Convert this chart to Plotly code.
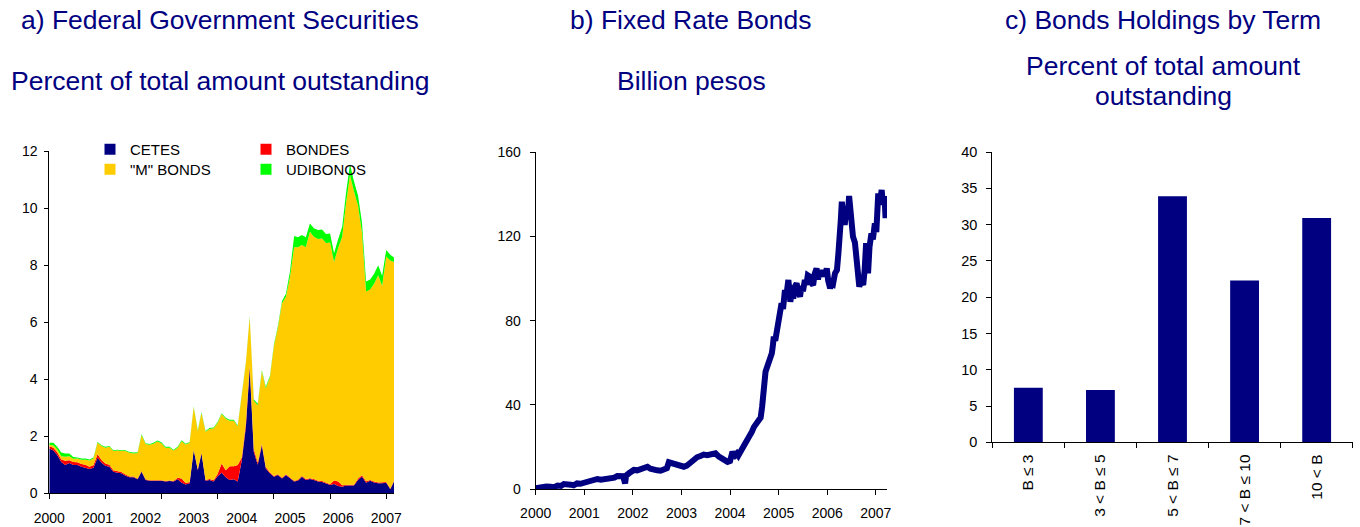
import pandas as pd
import plotly.graph_objects as go

W, H = 1360, 527

# ---------------- Panel a: Federal Government Securities (monthly, Jan 2000 - Mar 2007)
a_dates = pd.date_range("2000-01-01", periods=87, freq="MS")
cetes = [1.57, 1.50, 1.34, 1.10, 0.99, 1.06, 0.99, 0.99, 0.93, 0.90, 0.85, 0.90,
         1.25, 1.07, 0.97, 0.93, 0.76, 0.72, 0.70, 0.62, 0.56, 0.56, 0.49, 0.76,
         0.47, 0.44, 0.44, 0.45, 0.44, 0.41, 0.43, 0.41, 0.49, 0.37, 0.31, 0.35,
         1.51, 0.81, 1.40, 0.44, 0.47, 0.41, 0.60, 0.72, 0.56, 0.47, 0.49, 0.41,
         1.16, 2.33, 4.40, 1.45, 1.00, 1.69, 0.87, 0.70, 0.58, 0.64, 0.52, 0.64,
         0.52, 0.41, 0.44, 0.58, 0.47, 0.50, 0.47, 0.41, 0.40, 0.35, 0.29, 0.33,
         0.26, 0.23, 0.27, 0.27, 0.27, 0.47, 0.58, 0.37, 0.44, 0.38, 0.35, 0.35,
         0.37, 0.14, 0.41]
bondes = [0.08, 0.10, 0.10, 0.09, 0.15, 0.10, 0.11, 0.10, 0.10, 0.10, 0.08, 0.08,
          0.12, 0.10, 0.08, 0.07, 0.05, 0.05, 0.05, 0.04, 0.03, 0.03, 0.02, 0.02,
          0.02, 0.02, 0.02, 0.02, 0.02, 0.02, 0.02, 0.02, 0.06, 0.15, 0.05, 0.05,
          0.03, 0.03, 0.03, 0.03, 0.03, 0.05, 0.08, 0.33, 0.25, 0.48, 0.46, 0.58,
          0.10, 0.15, 0.10, 0.10, 0.08, 0.05, 0.05, 0.04, 0.03, 0.03, 0.03, 0.03,
          0.03, 0.03, 0.03, 0.03, 0.03, 0.03, 0.03, 0.03, 0.03, 0.03, 0.03, 0.12,
          0.15, 0.05, 0.03, 0.03, 0.03, 0.05, 0.05, 0.05, 0.03, 0.03, 0.03, 0.03,
          0.03, 0.03, 0.03]
m_bonds = [0.05, 0.08, 0.10, 0.11, 0.14, 0.14, 0.11, 0.13, 0.15, 0.18, 0.22, 0.24,
           0.40, 0.49, 0.55, 0.63, 0.67, 0.73, 0.73, 0.82, 0.83, 0.81, 0.90, 1.26,
           1.24, 1.24, 1.28, 1.35, 1.30, 1.17, 1.15, 1.07, 1.05, 1.31, 1.35, 1.37,
           1.48, 1.34, 1.39, 1.69, 1.76, 1.82, 1.79, 1.73, 1.81, 1.60, 1.60, 1.36,
           2.20, 2.10, 1.68, 1.70, 2.01, 2.54, 2.77, 3.32, 4.57, 5.14, 6.12, 6.23,
           7.05, 8.19, 8.16, 8.10, 8.13, 8.65, 8.50, 8.48, 8.51, 8.40, 8.48, 7.67,
           8.20, 8.72, 9.85, 10.86, 10.30, 9.58, 8.52, 6.66, 6.68, 6.94, 7.27, 6.90,
           7.91, 8.00, 7.68]
udibonos = [0.07, 0.09, 0.09, 0.13, 0.12, 0.10, 0.06, 0.04, 0.04, 0.04, 0.04, 0.04,
            0.03, 0.03, 0.03, 0.03, 0.03, 0.03, 0.03, 0.03, 0.03, 0.03, 0.03, 0.03,
            0.03, 0.03, 0.03, 0.03, 0.03, 0.03, 0.03, 0.03, 0.03, 0.03, 0.03, 0.03,
            0.03, 0.03, 0.03, 0.03, 0.03, 0.03, 0.03, 0.03, 0.03, 0.03, 0.03, 0.03,
            0.03, 0.03, 0.03, 0.05, 0.05, 0.05, 0.05, 0.05, 0.05, 0.06, 0.08, 0.10,
            0.20, 0.40, 0.35, 0.35, 0.35, 0.29, 0.30, 0.32, 0.32, 0.32, 0.32, 0.30,
            0.30, 0.35, 0.35, 0.39, 0.35, 0.35, 0.35, 0.35, 0.35, 0.35, 0.35, 0.35,
            0.23, 0.20, 0.15]
a_series = ["CETES", "BONDES", "\"M\" BONDS", "UDIBONOS"]
a_colors = ["#000080", "#FF0000", "#FFCC00", "#00FF00"]
a_year_labels = [str(y) for y in range(2000, 2008)]

# ---------------- Panel b: Fixed Rate Bonds (billion pesos)
b_years = [2000.00, 2000.08, 2000.15, 2000.22, 2000.30, 2000.38, 2000.45, 2000.52,
           2000.58, 2000.65, 2000.72, 2000.78, 2000.85, 2000.92, 2001.00, 2001.06,
           2001.13, 2001.20, 2001.27, 2001.34, 2001.40, 2001.48, 2001.55, 2001.62,
           2001.68, 2001.74, 2001.80, 2001.84, 2001.86, 2001.92, 2001.97, 2002.02,
           2002.09, 2002.16, 2002.23, 2002.30, 2002.36, 2002.43, 2002.50, 2002.57,
           2002.64, 2002.70, 2002.74, 2002.77, 2002.84, 2002.90, 2002.97, 2003.05,
           2003.11, 2003.18, 2003.25, 2003.32, 2003.39, 2003.46, 2003.53, 2003.60,
           2003.65, 2003.70, 2003.77, 2003.84, 2003.90, 2003.95, 2004.00, 2004.03,
           2004.05, 2004.08, 2004.10, 2004.14, 2004.17, 2004.22, 2004.28, 2004.33,
           2004.38, 2004.42, 2004.45, 2004.49, 2004.52, 2004.56, 2004.60, 2004.63,
           2004.66, 2004.69, 2004.71, 2004.73, 2004.77, 2004.80, 2004.83, 2004.86,
           2004.88, 2004.90, 2004.93, 2004.96, 2004.98, 2005.00, 2005.03, 2005.06,
           2005.09, 2005.13, 2005.16, 2005.20, 2005.22, 2005.24, 2005.27, 2005.30,
           2005.33, 2005.37, 2005.40, 2005.44, 2005.47, 2005.50, 2005.54, 2005.57,
           2005.60, 2005.64, 2005.67, 2005.71, 2005.74, 2005.78, 2005.81, 2005.84,
           2005.88, 2005.91, 2005.95, 2005.99, 2006.02, 2006.06, 2006.09, 2006.12,
           2006.16, 2006.20, 2006.23, 2006.26, 2006.28, 2006.30, 2006.33, 2006.36,
           2006.39, 2006.42, 2006.45, 2006.49, 2006.53, 2006.57, 2006.60, 2006.62,
           2006.64, 2006.66, 2006.70, 2006.74, 2006.77, 2006.80, 2006.82, 2006.84,
           2006.87, 2006.91, 2006.94, 2006.98, 2007.01, 2007.05, 2007.08, 2007.12,
           2007.14, 2007.16, 2007.18, 2007.20]
b_values = [0.5, 0.9, 0.8, 1.3, 1.2, 1.0, 1.8, 1.6,
            2.5, 2.0, 2.2, 1.9, 2.8, 2.6, 3.1, 3.4,
            4.4, 4.7, 4.9, 4.6, 4.8, 5.0, 4.9, 5.5,
            6.3, 6.0, 6.2, 2.8, 6.5, 7.6, 8.5, 9.2,
            9.0, 9.5, 10.2, 10.7, 9.8, 9.2, 9.0, 8.8,
            9.4, 10.0, 12.8, 12.6, 12.0, 12.3, 11.5, 10.7,
            11.2, 12.6, 14.0, 15.2, 15.8, 16.5, 16.2, 16.5,
            17.2, 17.1, 15.5, 14.7, 13.5, 13.0, 13.4, 16.0,
            17.8, 16.5, 16.0, 17.0, 16.0, 18.0, 20.2, 22.5,
            24.2, 26.0, 27.3, 29.5, 30.5, 31.0, 32.5, 34.0,
            39.2, 47.0, 52.0, 55.8, 58.5, 60.5, 62.0, 64.5,
            68.0, 72.4, 70.5, 75.5, 78.0, 83.4, 86.0, 88.2,
            85.5, 94.5, 92.0, 99.3, 95.0, 89.0, 93.0, 90.5,
            96.0, 97.7, 93.5, 91.4, 96.5, 94.0, 99.3, 97.0,
            101.5, 100.9, 98.0, 96.9, 102.0, 104.8, 99.5, 103.5,
            100.9, 104.0, 101.0, 104.8, 99.0, 95.3, 98.0, 97.5,
            102.5, 104.0, 112.0, 118.0, 128.0, 136.4, 131.0, 125.4,
            133.0, 128.0, 139.1, 128.0, 119.8, 117.0, 111.0, 107.2,
            100.0, 96.1, 99.0, 96.9, 104.0, 116.7, 110.0, 102.5,
            115.0, 121.4, 118.5, 126.2, 122.0, 140.4, 135.0, 142.0,
            137.0, 135.0, 139.0, 128.6]
b_year_ticks = list(range(2000, 2008))

# ---------------- Panel c: Bonds Holdings by Term
c_terms = ["B \u2264 3", "3 < B \u2264 5", "5 < B \u2264 7", "7 < B \u2264 10", "10 < B"]
c_values = [7.5, 7.2, 33.9, 22.3, 30.9]

NAVY = "#000080"
FONT = "Liberation Sans, Arial, sans-serif"


def px_x(p):
    return p / W


def px_y(p):
    return 1 - p / H


fig = go.Figure()

a_values = [cetes, bondes, m_bonds, udibonos]
for name, vals, col in zip(a_series, a_values, a_colors):
    fig.add_trace(go.Scatter(
        x=a_dates, y=vals, name=name, mode="lines", stackgroup="a",
        line=dict(width=0, color=col), fillcolor=col, showlegend=False,
        xaxis="x", yaxis="y", hoverinfo="x+y+name"))

# invisible anchor trace so the year-label axis of panel a is drawn
fig.add_trace(go.Scatter(x=[a_dates[0]], y=[None], mode="markers", showlegend=False,
                         hoverinfo="skip", xaxis="x4", yaxis="y"))

# legend entries (two rows)
for i, (name, col) in enumerate(zip(a_series, a_colors)):
    fig.add_trace(go.Scatter(
        x=[None], y=[None], name=name, mode="markers",
        marker=dict(symbol="square", size=11, color=col),
        legend="legend" if i < 2 else "legend2", xaxis="x", yaxis="y"))

fig.add_trace(go.Scatter(
    x=b_years, y=b_values, mode="lines", line=dict(color=NAVY, width=6),
    showlegend=False, xaxis="x2", yaxis="y2", name="Fixed Rate Bonds"))

fig.add_trace(go.Bar(
    x=c_terms, y=c_values, marker=dict(color=NAVY, line=dict(width=0)),
    showlegend=False, xaxis="x3", yaxis="y3", name="Holdings"))

tick_font = dict(family=FONT, size=14, color="#000000")
axis_common = dict(showline=True, linecolor="#000000", linewidth=1, showgrid=False,
                   zeroline=False, tickcolor="#000000", automargin=False)

a_range = [a_dates[0], a_dates[-1]]
legend_common = dict(orientation="h", xanchor="left", yanchor="top", traceorder="normal",
                     entrywidth=111, entrywidthmode="pixels",
                     font=dict(family=FONT, size=15, color="#000000"),
                     bgcolor="rgba(0,0,0,0)", borderwidth=0,
                     itemclick=False, itemdoubleclick=False)
fig.update_layout(
    width=W, height=H, margin=dict(l=0, r=0, t=0, b=0, autoexpand=False),
    paper_bgcolor="white", plot_bgcolor="white",
    bargap=0.6,
    xaxis=dict(domain=[px_x(49.3), px_x(394)], anchor="y", type="date", range=a_range,
               ticks="outside", ticklen=5, tickmode="array", tickfont=tick_font,
               tickvals=list(a_dates[::14]), showticklabels=False, **axis_common),
    xaxis4=dict(overlaying="x", anchor="y", type="date", range=a_range, automargin=False,
                showline=False, showgrid=False, zeroline=False, ticks="",
                tickmode="array", tickvals=[pd.Timestamp(f"{y}-01-01") for y in range(2000, 2008)],
                ticktext=a_year_labels, tickfont=tick_font, ticklabelstandoff=15),
    yaxis=dict(domain=[px_y(493.3), px_y(151.3)], anchor="x", range=[0, 12],
               tickmode="array", tickvals=[0, 2, 4, 6, 8, 10, 12], ticks="outside",
               ticklen=4, ticklabelstandoff=4, tickfont=tick_font, **axis_common),
    xaxis2=dict(domain=[px_x(535.7), px_x(887)], anchor="y2", range=[2000, 2007.23],
                tickmode="array", tickvals=b_year_ticks, ticks="outside", ticklen=5,
                ticklabelstandoff=6, tickfont=tick_font, **axis_common),
    yaxis2=dict(domain=[px_y(489.3), px_y(152)], anchor="x2", range=[0, 160],
                tickmode="array", tickvals=[0, 40, 80, 120, 160], ticks="outside",
                ticklen=5, ticklabelstandoff=6, tickfont=tick_font, **axis_common),
    xaxis3=dict(domain=[px_x(992.3), px_x(1352.7)], anchor="y3", type="category",
                range=[-0.5, 4.5], tickson="boundaries", ticks="outside", ticklen=5,
                tickangle=-90, ticklabelstandoff=5,
                tickfont=dict(family=FONT, size=15.5, color="#000000"), **axis_common),
    yaxis3=dict(domain=[px_y(442.3), px_y(152)], anchor="x3", range=[0, 40],
                tickmode="array", tickvals=[0, 5, 10, 15, 20, 25, 30, 35, 40],
                ticks="outside", ticklen=5, ticklabelstandoff=6,
                tickfont=dict(family=FONT, size=14.5, color="#000000"), **axis_common),
    legend=dict(x=px_x(90), y=px_y(133), **legend_common),
    legend2=dict(x=px_x(90), y=px_y(153), **legend_common),
    hovermode="closest",
)

title_font = dict(family=FONT, size=26.5, color=NAVY)
titles = [
    ("a) Federal Government Securities", 219.5, 20),
    ("Percent of total amount outstanding", 220, 81),
    ("b) Fixed Rate Bonds", 690.5, 20),
    ("Billion pesos", 691, 81),
    ("c) Bonds Holdings by Term", 1163, 20),
    ("Percent of total amount", 1163, 66),
    ("outstanding", 1163, 96),
]
for text, x, y in titles:
    fig.add_annotation(text=text, x=px_x(x), y=px_y(y), xref="paper", yref="paper",
                       xanchor="center", yanchor="middle", showarrow=False, font=title_font)

fig.write_html("out.html", config={"displayModeBar": False},
               post_script="document.body.style.margin='0px';document.body.style.padding='0px';")
